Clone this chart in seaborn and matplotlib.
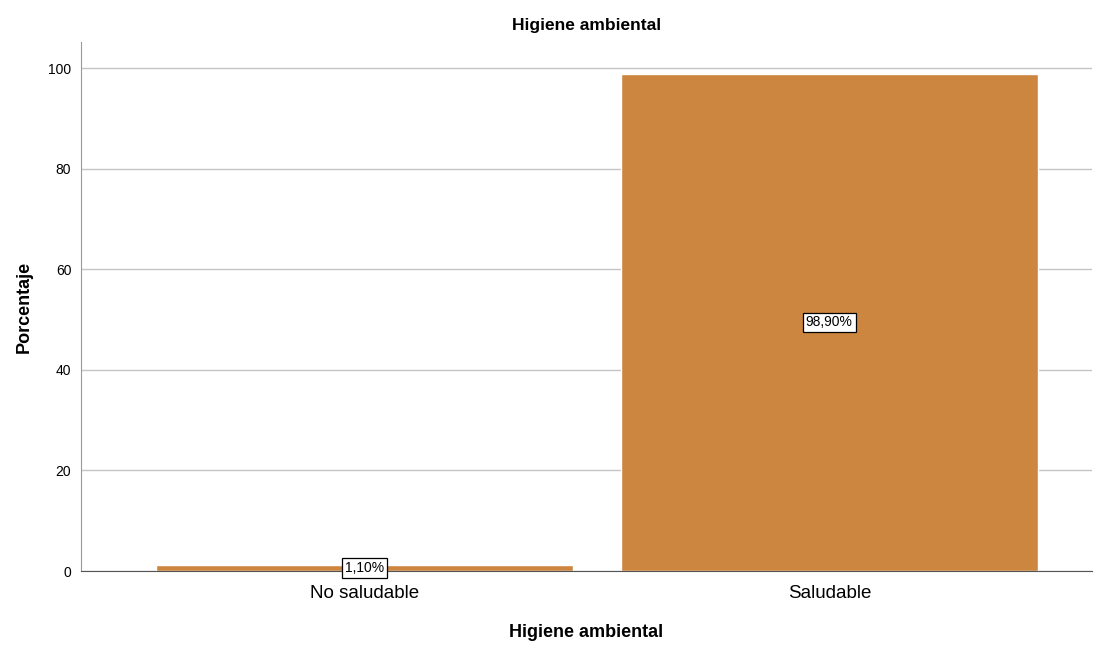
import matplotlib
matplotlib.use('Agg')
import matplotlib.pyplot as plt
import seaborn as sns
import pandas as pd

sns.set_style('white')
plt.rcParams['font.family'] = ['Liberation Sans', 'DejaVu Sans']
plt.rcParams['text.color'] = 'black'
plt.rcParams['axes.labelcolor'] = 'black'
plt.rcParams['xtick.color'] = 'black'
plt.rcParams['ytick.color'] = 'black'

categorias = ['No saludable', 'Saludable']
porcentajes = [1.1, 98.9]
etiquetas = ['1,10%', '98,90%']

df = pd.DataFrame({'cat': categorias, 'pct': porcentajes})

fig = plt.figure(figsize=(11.05, 6.48), dpi=100)
ax = fig.add_axes([0.0733, 0.1188, 0.9147, 0.8162])

sns.barplot(data=df, x='cat', y='pct', color='#CD8640', saturation=1,
            width=0.897, ax=ax, zorder=2)

ax.set_xlim(-0.611, 1.565)
ax.set_ylim(0, 105.2)
ax.set_yticks([0, 20, 40, 60, 80, 100])
ax.yaxis.grid(True, color='#c4c4c4', linewidth=1, zorder=0)
ax.set_axisbelow(True)

# etiquetas con caja blanca en el centro de cada barra
for p, lab in zip(ax.patches, etiquetas):
    ax.text(p.get_x() + p.get_width() / 2, p.get_height() / 2, lab,
            ha='center', va='center', fontsize=10, zorder=5,
            bbox=dict(boxstyle='square,pad=0.2', facecolor='white',
                      edgecolor='black', linewidth=0.9))

ax.set_title('Higiene ambiental', fontsize=12.5, fontweight='bold', pad=9)
ax.set_xlabel('Higiene ambiental', fontsize=13, fontweight='bold', labelpad=16)
ax.set_ylabel('Porcentaje', fontsize=13, fontweight='bold', labelpad=11)
ax.tick_params(axis='x', labelsize=13.5, length=0, pad=10)
ax.tick_params(axis='y', labelsize=10, length=0, pad=7)

for s in ['top', 'right']:
    ax.spines[s].set_visible(False)
ax.spines['left'].set_color('#999999')
ax.spines['bottom'].set_color('#555555')

fig.savefig('out.png', dpi=100)
